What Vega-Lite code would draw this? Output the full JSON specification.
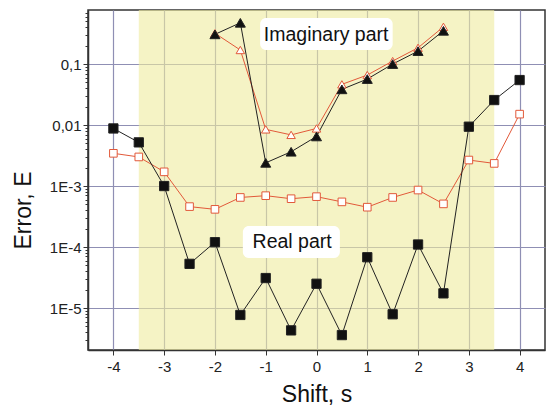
{
  "$schema": "https://vega.github.io/schema/vega-lite/v6.json",
  "width": 457,
  "height": 340,
  "autosize": "none",
  "padding": {"left": 88, "top": 10, "right": 1, "bottom": 55},
  "background": "white",
  "config": {
    "font": "Liberation Sans",
    "view": {"stroke": "#333333", "strokeWidth": 1.5}
  },
  "datasets": {
    "series": [
      {"x": -4, "E": 0.00344, "s": "ReR"}, {"x": -3.5, "E": 0.0030, "s": "ReR"}, {"x": -3, "E": 0.00171, "s": "ReR"}, {"x": -2.5, "E": 0.00046, "s": "ReR"}, {"x": -2, "E": 0.000415, "s": "ReR"}, {"x": -1.5, "E": 0.00065, "s": "ReR"}, {"x": -1, "E": 0.000695, "s": "ReR"}, {"x": -0.5, "E": 0.00062, "s": "ReR"}, {"x": 0, "E": 0.00067, "s": "ReR"}, {"x": 0.5, "E": 0.00055, "s": "ReR"}, {"x": 1, "E": 0.00045, "s": "ReR"}, {"x": 1.5, "E": 0.00065, "s": "ReR"}, {"x": 2, "E": 0.00086, "s": "ReR"}, {"x": 2.5, "E": 0.00051, "s": "ReR"}, {"x": 3, "E": 0.00267, "s": "ReR"}, {"x": 3.5, "E": 0.00235, "s": "ReR"}, {"x": 4, "E": 0.0151, "s": "ReR"},
      {"x": -2, "E": 0.32, "s": "ImR"}, {"x": -1.5, "E": 0.17, "s": "ImR"}, {"x": -1, "E": 0.0085, "s": "ImR"}, {"x": -0.5, "E": 0.0069, "s": "ImR"}, {"x": 0, "E": 0.0088, "s": "ImR"}, {"x": 0.5, "E": 0.0465, "s": "ImR"}, {"x": 1, "E": 0.066, "s": "ImR"}, {"x": 1.5, "E": 0.112, "s": "ImR"}, {"x": 2, "E": 0.185, "s": "ImR"}, {"x": 2.5, "E": 0.408, "s": "ImR"},
      {"x": -4, "E": 0.0088, "s": "ReB"}, {"x": -3.5, "E": 0.0052, "s": "ReB"}, {"x": -3, "E": 0.001, "s": "ReB"}, {"x": -2.5, "E": 0.000053, "s": "ReB"}, {"x": -2, "E": 0.00012, "s": "ReB"}, {"x": -1.5, "E": 0.0000077, "s": "ReB"}, {"x": -1, "E": 0.000031, "s": "ReB"}, {"x": -0.5, "E": 0.0000043, "s": "ReB"}, {"x": 0, "E": 0.000025, "s": "ReB"}, {"x": 0.5, "E": 0.0000036, "s": "ReB"}, {"x": 1, "E": 0.000068, "s": "ReB"}, {"x": 1.5, "E": 0.0000079, "s": "ReB"}, {"x": 2, "E": 0.00011, "s": "ReB"}, {"x": 2.5, "E": 0.0000174, "s": "ReB"}, {"x": 3, "E": 0.0094, "s": "ReB"}, {"x": 3.5, "E": 0.0257, "s": "ReB"}, {"x": 4, "E": 0.0547, "s": "ReB"},
      {"x": -2, "E": 0.307, "s": "ImB"}, {"x": -1.5, "E": 0.475, "s": "ImB"}, {"x": -1, "E": 0.0024, "s": "ImB"}, {"x": -0.5, "E": 0.00365, "s": "ImB"}, {"x": 0, "E": 0.0065, "s": "ImB"}, {"x": 0.5, "E": 0.0385, "s": "ImB"}, {"x": 1, "E": 0.0568, "s": "ImB"}, {"x": 1.5, "E": 0.1, "s": "ImB"}, {"x": 2, "E": 0.163, "s": "ImB"}, {"x": 2.5, "E": 0.351, "s": "ImB"}
    ],
    "band": [{"a": -3.5, "b": 3.5}],
    "boxes": [
      {"x1": -1.11, "x2": 1.5, "y1": 0.17, "y2": 0.567},
      {"x1": -1.45, "x2": 0.46, "y1": 0.000066, "y2": 0.000221}
    ],
    "labels": [
      {"x": 0.19, "E": 0.30, "t": "Imaginary part"},
      {"x": -0.48, "E": 0.000121, "t": "Real part"}
    ]
  },
  "layer": [
    {
      "data": {"name": "band"},
      "mark": {"type": "rect", "fill": "#eeeb9e", "opacity": 0.6},
      "encoding": {
        "x": {
          "field": "a", "type": "quantitative",
          "scale": {"domain": [-4.5, 4.5], "nice": false, "zero": false},
          "axis": {
            "title": "Shift, s",
            "values": [-4, -3.5, -3, -2.5, -2, -1.5, -1, -0.5, 0, 0.5, 1, 1.5, 2, 2.5, 3, 3.5, 4],
            "labelExpr": "datum.value % 1 == 0 ? replace(datum.label, '\u2212', '-') : ''",
            "grid": true,
            "gridColor": "#8f8fb4",
            "gridWidth": 1.2,
            "gridOpacity": {"condition": {"test": "datum.value % 1 == 0", "value": 1}, "value": 0},
            "tickSize": {"condition": {"test": "datum.value % 1 == 0", "value": 5}, "value": 3},
            "tickColor": "#333333",
            "domainColor": "#333333",
            "domainWidth": 1.5,
            "labelFontSize": 15,
            "labelColor": "#222222",
            "labelPadding": 4,
            "titleFontSize": 23,
            "titleFontWeight": "normal",
            "titleColor": "#111111",
            "titlePadding": 9
          }
        },
        "x2": {"field": "b"}
      }
    },
    {
      "data": {"name": "boxes"},
      "mark": {"type": "rect", "fill": "white", "cornerRadius": 6},
      "encoding": {
        "x": {"field": "x1", "type": "quantitative"},
        "x2": {"field": "x2"},
        "y": {
          "field": "y1", "type": "quantitative",
          "scale": {"type": "log", "domain": [0.00000205, 0.77], "nice": false},
          "axis": {
            "title": "Error, E",
            "values": [0.000003, 0.000004, 0.000005, 0.000006, 0.000007, 0.000008, 0.000009,
                       0.00001, 0.00002, 0.00003, 0.00004, 0.00005, 0.00006, 0.00007, 0.00008, 0.00009,
                       0.0001, 0.0002, 0.0003, 0.0004, 0.0005, 0.0006, 0.0007, 0.0008, 0.0009,
                       0.001, 0.002, 0.003, 0.004, 0.005, 0.006, 0.007, 0.008, 0.009,
                       0.01, 0.02, 0.03, 0.04, 0.05, 0.06, 0.07, 0.08, 0.09,
                       0.1, 0.2, 0.3, 0.4, 0.5, 0.6, 0.7],
            "labelExpr": "datum.value == 0.1 ? '0,1' : datum.value == 0.01 ? '0,01' : datum.value == 0.001 ? '1E-3' : datum.value == 0.0001 ? '1E-4' : datum.value == 0.00001 ? '1E-5' : ''",
            "grid": true,
            "gridColor": "#8f8fb4",
            "gridWidth": 1.2,
            "gridOpacity": {"condition": {"test": "abs(log(datum.value)/LN10 - round(log(datum.value)/LN10)) < 0.01", "value": 1}, "value": 0},
            "tickSize": {"condition": {"test": "abs(log(datum.value)/LN10 - round(log(datum.value)/LN10)) < 0.01", "value": 5}, "value": 3},
            "tickColor": "#333333",
            "domainColor": "#333333",
            "domainWidth": 1.5,
            "labelFontSize": 15,
            "labelColor": "#222222",
            "labelPadding": 2,
            "labelBound": false,
            "labelOverlap": false,
            "titleFontSize": 23,
            "titleFontWeight": "normal",
            "titleColor": "#111111",
            "titlePadding": 14,
            "titleY": 200
          }
        },
        "y2": {"field": "y2"}
      }
    },
    {
      "data": {"name": "series"},
      "mark": {"type": "line", "strokeWidth": 1},
      "encoding": {
        "x": {"field": "x", "type": "quantitative"},
        "y": {"field": "E", "type": "quantitative"},
        "detail": {"field": "s"},
        "stroke": {
          "field": "s", "type": "nominal",
          "scale": {"domain": ["ReR", "ImR", "ReB", "ImB"], "range": ["#e2593a", "#e2593a", "#222222", "#222222"]},
          "legend": null
        }
      }
    },
    {
      "data": {"name": "series"},
      "mark": {"type": "point", "strokeWidth": 1, "opacity": 1},
      "encoding": {
        "x": {"field": "x", "type": "quantitative"},
        "y": {"field": "E", "type": "quantitative"},
        "shape": {
          "field": "s", "type": "nominal",
          "scale": {"domain": ["ReR", "ImR", "ReB", "ImB"], "range": ["square", "triangle-up", "square", "triangle-up"]},
          "legend": null
        },
        "size": {
          "field": "s", "type": "nominal",
          "scale": {"domain": ["ReR", "ImR", "ReB", "ImB"], "range": [58, 100, 58, 100]},
          "legend": null
        },
        "fill": {
          "field": "s", "type": "nominal",
          "scale": {"domain": ["ReR", "ImR", "ReB", "ImB"], "range": ["#ffffff", "#ffffff", "#111111", "#111111"]},
          "legend": null
        },
        "stroke": {
          "field": "s", "type": "nominal",
          "scale": {"domain": ["ReR", "ImR", "ReB", "ImB"], "range": ["#e2593a", "#e2593a", "#111111", "#111111"]},
          "legend": null
        }
      }
    },
    {
      "data": {"name": "labels"},
      "mark": {"type": "text", "fontSize": 19.5, "color": "#111111", "align": "center", "baseline": "middle"},
      "encoding": {
        "x": {"field": "x", "type": "quantitative"},
        "y": {"field": "E", "type": "quantitative"},
        "text": {"field": "t"}
      }
    }
  ]
}
